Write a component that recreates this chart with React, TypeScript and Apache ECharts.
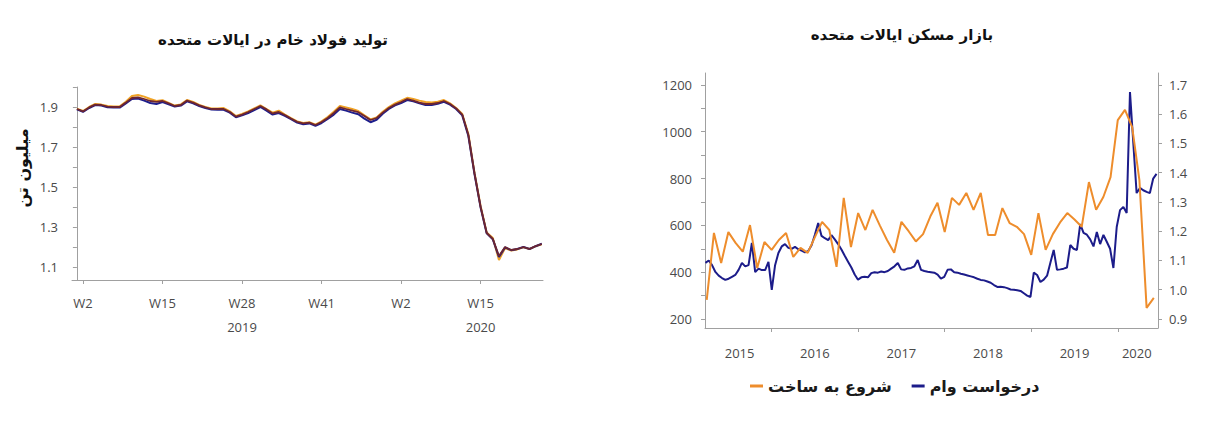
import React, { useEffect, useRef } from "react";
import * as echarts from "echarts";

// ---------- Left chart: US raw steel production (million tonnes), weekly W1 2019 .. W25 2020
const steelTickIdx = [1, 14, 27, 40, 53, 66];
const steelTickLabels = ["W2", "W15", "W28\n2019", "W41", "W2", "W15\n2020"];
const steelYTicks = [1.1, 1.2, 1.3, 1.4, 1.5, 1.6, 1.7, 1.8, 1.9, 2.0];
const steelYLabels = [1.1, 1.3, 1.5, 1.7, 1.9];

const steelOrange = [
  1.892, 1.88, 1.9, 1.915, 1.912, 1.905, 1.902, 1.903, 1.926, 1.955,
  1.96, 1.952, 1.94, 1.93, 1.934, 1.92, 1.907, 1.913, 1.935, 1.925,
  1.91, 1.9, 1.893, 1.893, 1.895, 1.878, 1.855, 1.865, 1.878, 1.893,
  1.908, 1.89, 1.872, 1.882, 1.862, 1.845, 1.828, 1.82, 1.824, 1.812,
  1.828, 1.85, 1.876, 1.905, 1.898, 1.89, 1.88, 1.858, 1.838, 1.848,
  1.876, 1.9, 1.918, 1.932, 1.946, 1.94, 1.932, 1.925, 1.922, 1.926,
  1.935, 1.918, 1.895, 1.865, 1.765, 1.572, 1.405, 1.272, 1.245, 1.135,
  1.195, 1.182, 1.188, 1.198, 1.19, 1.203, 1.214,
];
const steelNavy = [
  1.888, 1.876, 1.895, 1.91, 1.907, 1.899, 1.897, 1.897, 1.918, 1.94,
  1.942, 1.932, 1.92, 1.915, 1.925, 1.914, 1.902, 1.907, 1.928, 1.918,
  1.905, 1.895, 1.887, 1.886, 1.886, 1.872, 1.849, 1.858, 1.87, 1.885,
  1.9, 1.882, 1.862, 1.87, 1.856, 1.839, 1.822, 1.814, 1.818, 1.806,
  1.82, 1.84, 1.862, 1.89, 1.882, 1.872, 1.864, 1.842, 1.824, 1.836,
  1.866, 1.89, 1.908, 1.92, 1.935, 1.928, 1.918, 1.91, 1.91, 1.916,
  1.926, 1.912, 1.89, 1.858, 1.755, 1.565, 1.398, 1.268, 1.238, 1.15,
  1.198, 1.184, 1.19, 1.2, 1.19, 1.204, 1.216,
];
const steelRed = [
  1.89, 1.878, 1.898, 1.912, 1.91, 1.902, 1.9, 1.9, 1.922, 1.945,
  1.948, 1.94, 1.93, 1.926, 1.93, 1.918, 1.905, 1.91, 1.932, 1.922,
  1.908, 1.898, 1.89, 1.89, 1.89, 1.875, 1.852, 1.862, 1.875, 1.89,
  1.905, 1.888, 1.868, 1.875, 1.86, 1.842, 1.826, 1.818, 1.822, 1.81,
  1.825, 1.845, 1.87, 1.898, 1.89, 1.882, 1.874, 1.855, 1.835, 1.845,
  1.872, 1.895, 1.912, 1.925, 1.94, 1.932, 1.922, 1.915, 1.915, 1.92,
  1.93, 1.915, 1.893, 1.862, 1.76, 1.568, 1.4, 1.27, 1.24, 1.155,
  1.2, 1.185, 1.19, 1.2, 1.19, 1.205, 1.215,
];

// ---------- Right chart: US housing market
const yearTicks = [2016, 2017, 2018, 2019, 2020];
const yearLabelPos = [2015.63, 2016.5, 2017.5, 2018.5, 2019.5, 2020.22];
const loanTicks = [200, 300, 400, 500, 600, 700, 800, 900, 1000, 1100, 1200];
const loanLabels = [200, 400, 600, 800, 1000, 1200];
const startTicks = [0.9, 1.0, 1.1, 1.2, 1.3, 1.4, 1.5, 1.6, 1.7];

// housing starts (million units, right axis), monthly from Apr 2015
const startsFirstYear = 2015.25;
const housingStarts = [
  0.965, 1.194, 1.091, 1.197, 1.16, 1.13, 1.221, 1.074, 1.163, 1.136,
  1.17, 1.194, 1.112, 1.143, 1.126, 1.18, 1.232, 1.204, 1.078, 1.314,
  1.146, 1.262, 1.204, 1.273, 1.22, 1.17, 1.126, 1.232, 1.2, 1.165,
  1.19, 1.25, 1.297, 1.197, 1.314, 1.29, 1.331, 1.273, 1.331, 1.187,
  1.187, 1.279, 1.228, 1.215, 1.19, 1.119, 1.262, 1.136, 1.19, 1.23,
  1.262, 1.24, 1.215, 1.368, 1.273, 1.317, 1.385, 1.58, 1.615, 1.556,
  1.375, 0.938, 0.972,
];

// mortgage applications (index, left axis), every two weeks from Apr 2015
const loansFirstYear = 2015.235;
const mortgageApps = [
  440, 450, 430, 401, 385, 375, 367, 372, 380, 388,
  410, 440, 425, 430, 525, 400, 415, 409, 409, 444,
  324, 430, 482, 510, 520, 504, 500, 508, 498, 492,
  485, 490, 515, 560, 610, 555, 545, 537, 558, 540,
  520, 497, 470, 445, 420, 390, 368, 378, 380, 378,
  396, 400, 398, 403, 400, 405, 415, 425, 439, 412,
  410, 416, 418, 425, 452, 410, 405, 402, 400, 398,
  390, 372, 380, 410, 412, 400, 398, 393, 390, 386,
  382, 378, 372, 367, 365, 360, 355, 345, 337, 338,
  336, 332, 326, 325, 323, 320, 310, 300, 294, 398,
  388, 358, 368, 385, 440, 495, 410, 412, 415, 420,
  516, 500, 495, 605, 568, 560, 540, 510, 572, 520,
  559, 530, 500, 418, 593, 665, 679, 653, 1170, 952,
  738, 760, 750, 743, 738, 800, 820,
];

const STARTS = "شروع به ساخت";
const LOANS = "درخواست وام";

const axisGray = "#a0a0a0";
const labelGray = "#4a4a4a";
const numFont = "Open Sans";
const faFont = "DejaVu Sans";

export default function App() {
  const ref = useRef<HTMLDivElement>(null);
  useEffect(() => {
    if (!ref.current) return;
    const chart = echarts.init(ref.current, null, { renderer: "svg" });
    const axisLine = { show: true, lineStyle: { color: axisGray, width: 1 } };
    const axisTickBase = { show: true, length: 4, lineStyle: { color: axisGray } };
    const labelBase = { color: labelGray, fontFamily: numFont, fontSize: 13 };

    const option: any = {
      animation: false,
      backgroundColor: "#ffffff",
      grid: [
        { left: 72, top: 87, width: 471, height: 193 },
        { left: 705, top: 73, width: 453, height: 255 },
      ],
      xAxis: [
        {
          type: "value",
          gridIndex: 0,
          min: -0.8,
          max: 76.2,
          axisLine,
          axisTick: { ...axisTickBase, customValues: steelTickIdx },
          splitLine: { show: false },
          axisLabel: {
            ...labelBase,
            customValues: steelTickIdx,
            margin: 11,
            lineHeight: 24,
            formatter: (v: number) => {
              const k = steelTickIdx.indexOf(Math.round(v));
              return k >= 0 ? steelTickLabels[k] : "";
            },
          },
        },
        {
          type: "value",
          gridIndex: 1,
          min: 2015.23,
          max: 2020.465,
          axisLine,
          axisTick: { ...axisTickBase, customValues: yearTicks },
          splitLine: { show: false },
          axisLabel: {
            ...labelBase,
            customValues: yearLabelPos,
            margin: 16,
            lineHeight: 18,
            formatter: (v: number) => String(Math.floor(v)),
          },
        },
      ],
      yAxis: [
        {
          type: "value",
          gridIndex: 0,
          min: 1.035,
          max: 2.0,
          axisLine,
          axisTick: { ...axisTickBase, customValues: steelYTicks },
          splitLine: { show: false },
          axisLabel: {
            ...labelBase,
            customValues: steelYLabels,
            margin: 14,
            formatter: (v: number) => v.toFixed(1),
          },
        },
        {
          type: "value",
          gridIndex: 1,
          position: "left",
          min: 161.5,
          max: 1251,
          axisLine,
          axisTick: { ...axisTickBase, customValues: loanTicks },
          splitLine: { show: false },
          axisLabel: {
            ...labelBase,
            customValues: loanLabels,
            margin: 13,
            formatter: (v: number) => String(Math.round(v)),
          },
        },
        {
          type: "value",
          gridIndex: 1,
          position: "right",
          min: 0.869,
          max: 1.741,
          axisLine,
          axisTick: { ...axisTickBase, customValues: startTicks },
          splitLine: { show: false },
          axisLabel: {
            ...labelBase,
            customValues: startTicks,
            margin: 11,
            formatter: (v: number) => v.toFixed(1),
          },
        },
      ],
      legend: {
        data: [STARTS, LOANS],
        left: 745,
        top: 373,
        icon: "rect",
        itemWidth: 13,
        itemHeight: 3,
        itemGap: 20,
        textStyle: { fontFamily: faFont, fontWeight: "bold", fontSize: 16, color: "#1a1a1a" },
      },
      graphic: [
        {
          type: "text",
          x: 273,
          y: 40,
          style: {
            text: "تولید فولاد خام در ایالات متحده",
            textAlign: "center",
            textVerticalAlign: "middle",
            fontFamily: faFont,
            fontWeight: "bold",
            fontSize: 15,
            fill: "#111",
          },
        },
        {
          type: "text",
          x: 902,
          y: 35,
          style: {
            text: "بازار مسکن ایالات متحده",
            textAlign: "center",
            textVerticalAlign: "middle",
            fontFamily: faFont,
            fontWeight: "bold",
            fontSize: 15,
            fill: "#111",
          },
        },
        {
          type: "text",
          x: 22,
          y: 168,
          rotation: Math.PI / 2,
          style: {
            text: "میلیون تن",
            textAlign: "center",
            textVerticalAlign: "middle",
            fontFamily: faFont,
            fontWeight: "bold",
            fontSize: 16,
            fill: "#111",
          },
        },
      ],
      series: [
        {
          name: "steel-orange",
          type: "line",
          xAxisIndex: 0,
          yAxisIndex: 0,
          showSymbol: false,
          lineStyle: { color: "#f0a224", width: 2 },
          data: steelOrange.map((v, i) => [i, v]),
        },
        {
          name: "steel-navy",
          type: "line",
          xAxisIndex: 0,
          yAxisIndex: 0,
          showSymbol: false,
          lineStyle: { color: "#1e1e8c", width: 2 },
          data: steelNavy.map((v, i) => [i, v]),
        },
        {
          name: "steel-red",
          type: "line",
          xAxisIndex: 0,
          yAxisIndex: 0,
          showSymbol: false,
          lineStyle: { color: "#6e2630", width: 1.8 },
          data: steelRed.map((v, i) => [i, v]),
        },
        {
          name: LOANS,
          type: "line",
          xAxisIndex: 1,
          yAxisIndex: 1,
          showSymbol: false,
          color: "#1c1c8a",
          lineStyle: { color: "#1c1c8a", width: 2 },
          data: mortgageApps.map((v, i) => [loansFirstYear + (i * 14) / 365.25, v]),
        },
        {
          name: STARTS,
          type: "line",
          xAxisIndex: 1,
          yAxisIndex: 2,
          showSymbol: false,
          color: "#ee8d2c",
          lineStyle: { color: "#ee8d2c", width: 2 },
          data: housingStarts.map((v, i) => [startsFirstYear + i / 12, v]),
        },
      ],
    };
    chart.setOption(option);
    return () => chart.dispose();
  }, []);
  return (
    <div
      ref={ref}
      style={{ position: "absolute", left: 0, top: 0, width: 1210, height: 421 }}
    />
  );
}
